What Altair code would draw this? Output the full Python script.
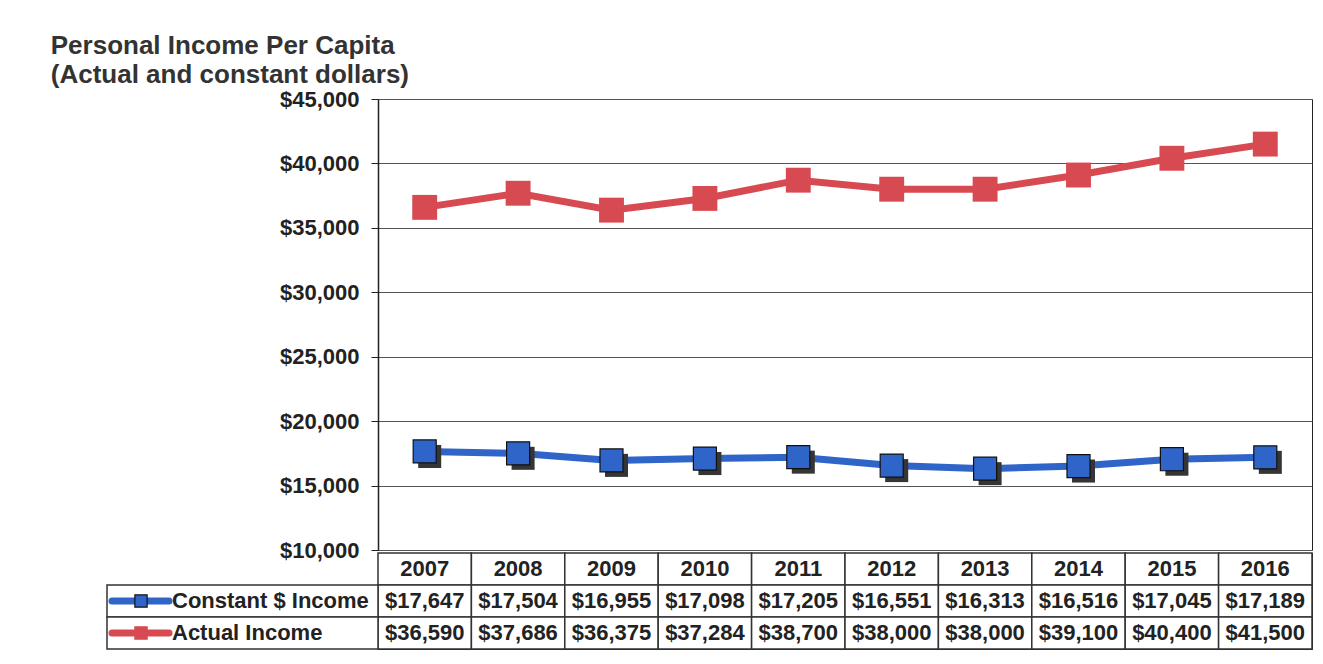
import altair as alt
import pandas as pd

# ---------------- data ----------------
years = ["2007", "2008", "2009", "2010", "2011", "2012", "2013", "2014", "2015", "2016"]
constant_income = [17647, 17504, 16955, 17098, 17205, 16551, 16313, 16516, 17045, 17189]
actual_income = [36590, 37686, 36375, 37284, 38700, 38000, 38000, 39100, 40400, 41500]
series_names = ["Constant $ Income", "Actual Income"]
y_ticks = [10000, 15000, 20000, 25000, 30000, 35000, 40000, 45000]
title_lines = ["Personal Income Per Capita", "(Actual and constant dollars)"]

# ---------------- styles ----------------
FONT = "Liberation Sans"
BLUE = "#2f64c8"
RED = "#d84a51"
SHADOW = "#353535"
DARK = "#222222"
W = 934
H = 451
ROW_H = 96
LEG_W = 271

long_df = pd.DataFrame({
    "year": years * 2,
    "series": [series_names[0]] * len(years) + [series_names[1]] * len(years),
    "value": constant_income + actual_income,
})
header_df = pd.DataFrame({"year": years, "row": ["hdr"] * len(years)})
legend_df = pd.DataFrame({"row": series_names})

xscale = alt.Scale(domain=years, paddingInner=0, paddingOuter=0)
color_scale = alt.Scale(domain=series_names, range=[BLUE, RED])

# ---------------- top chart ----------------
x_enc = alt.X("year:N", scale=xscale, axis=None)
y_enc = alt.Y(
    "value:Q",
    scale=alt.Scale(domain=[10000, 45000], nice=False, zero=False),
    axis=alt.Axis(values=y_ticks, format="$,.0f", title=None, grid=True,
                  tickSize=7, labelPadding=12),
)

base = alt.Chart(long_df).encode(x=x_enc, y=y_enc)
lines = base.mark_line(strokeWidth=7).encode(
    color=alt.Color("series:N", scale=color_scale, legend=None),
    detail="series:N",
)
red_pts = base.transform_filter(alt.datum.series == series_names[1]).mark_square(
    size=620, color=RED, opacity=1
)
blue_shadow = base.transform_filter(alt.datum.series == series_names[0]).mark_square(
    size=530, color=SHADOW, opacity=1, xOffset=5, yOffset=5
)
blue_pts = base.transform_filter(alt.datum.series == series_names[0]).mark_square(
    size=530, fill=BLUE, stroke="#111111", strokeWidth=1.2, opacity=1, filled=True
)
top = alt.layer(lines, red_pts, blue_shadow, blue_pts).properties(width=W, height=H)

# ---------------- data table ----------------
yscale = alt.Scale(domain=["hdr"] + series_names, paddingInner=0, paddingOuter=0)
ty = alt.Y("row:N", scale=yscale, axis=None)
tx = alt.X("year:N", scale=xscale, axis=None)

cell_style = dict(fill="white", stroke="#333333", strokeWidth=1.5)
txt_style = dict(font=FONT, fontSize=22, fontWeight="bold", color=DARK, baseline="middle")

hdr_cells = alt.Chart(header_df).mark_rect(**cell_style).encode(x=tx, y=ty)
hdr_text = alt.Chart(header_df).mark_text(**txt_style).encode(x=tx, y=ty, text="year:N")

val_df = long_df.rename(columns={"series": "row"})
val_cells = alt.Chart(val_df).mark_rect(**cell_style).encode(x=tx, y=ty)
val_text = alt.Chart(val_df).mark_text(**txt_style).encode(
    x=tx, y=ty, text=alt.Text("value:Q", format="$,.0f")
)

leg_cells = alt.Chart(legend_df).mark_rect(**cell_style).encode(
    x=alt.value(-LEG_W), x2=alt.value(0), y=ty
)
leg_line = alt.Chart(legend_df).mark_rule(strokeWidth=7, strokeCap="round").encode(
    x=alt.value(-266), x2=alt.value(-209), y=ty,
    color=alt.Color("row:N", scale=color_scale, legend=None),
)
leg_sq = alt.Chart(legend_df).mark_square(size=150, opacity=1, strokeWidth=1.2).encode(
    x=alt.value(-237), y=ty,
    fill=alt.Color("row:N", scale=color_scale, legend=None),
    stroke=alt.Stroke("row:N", scale=alt.Scale(domain=series_names, range=["#111111", RED]), legend=None),
)
leg_text = alt.Chart(legend_df).mark_text(align="left", **txt_style).encode(
    x=alt.value(-206), y=ty, text="row:N"
)

table = alt.layer(
    hdr_cells, val_cells, leg_cells, hdr_text, val_text, leg_line, leg_sq, leg_text
).properties(width=W, height=ROW_H)

chart = (
    alt.vconcat(top, table, spacing=3, bounds="flush")
    .properties(
        title=alt.TitleParams(
            text=title_lines, anchor="start", font=FONT, fontSize=26,
            fontWeight="bold", color="#333333", dx=-55, offset=0, lineHeight=29,
        ),
        padding={"left": 42, "top": 24, "right": 0, "bottom": 0},
        background="white",
    )
    .configure_view(stroke=DARK, strokeWidth=1)
    .configure_axis(
        labelFont=FONT, labelFontSize=22, labelFontWeight="bold", labelColor=DARK,
        tickColor=DARK, domainColor=DARK, domainWidth=1.5,
        gridColor="#555555", gridWidth=1,
    )
)

chart.save("out.html", embed_options={"renderer": "svg", "actions": False})
